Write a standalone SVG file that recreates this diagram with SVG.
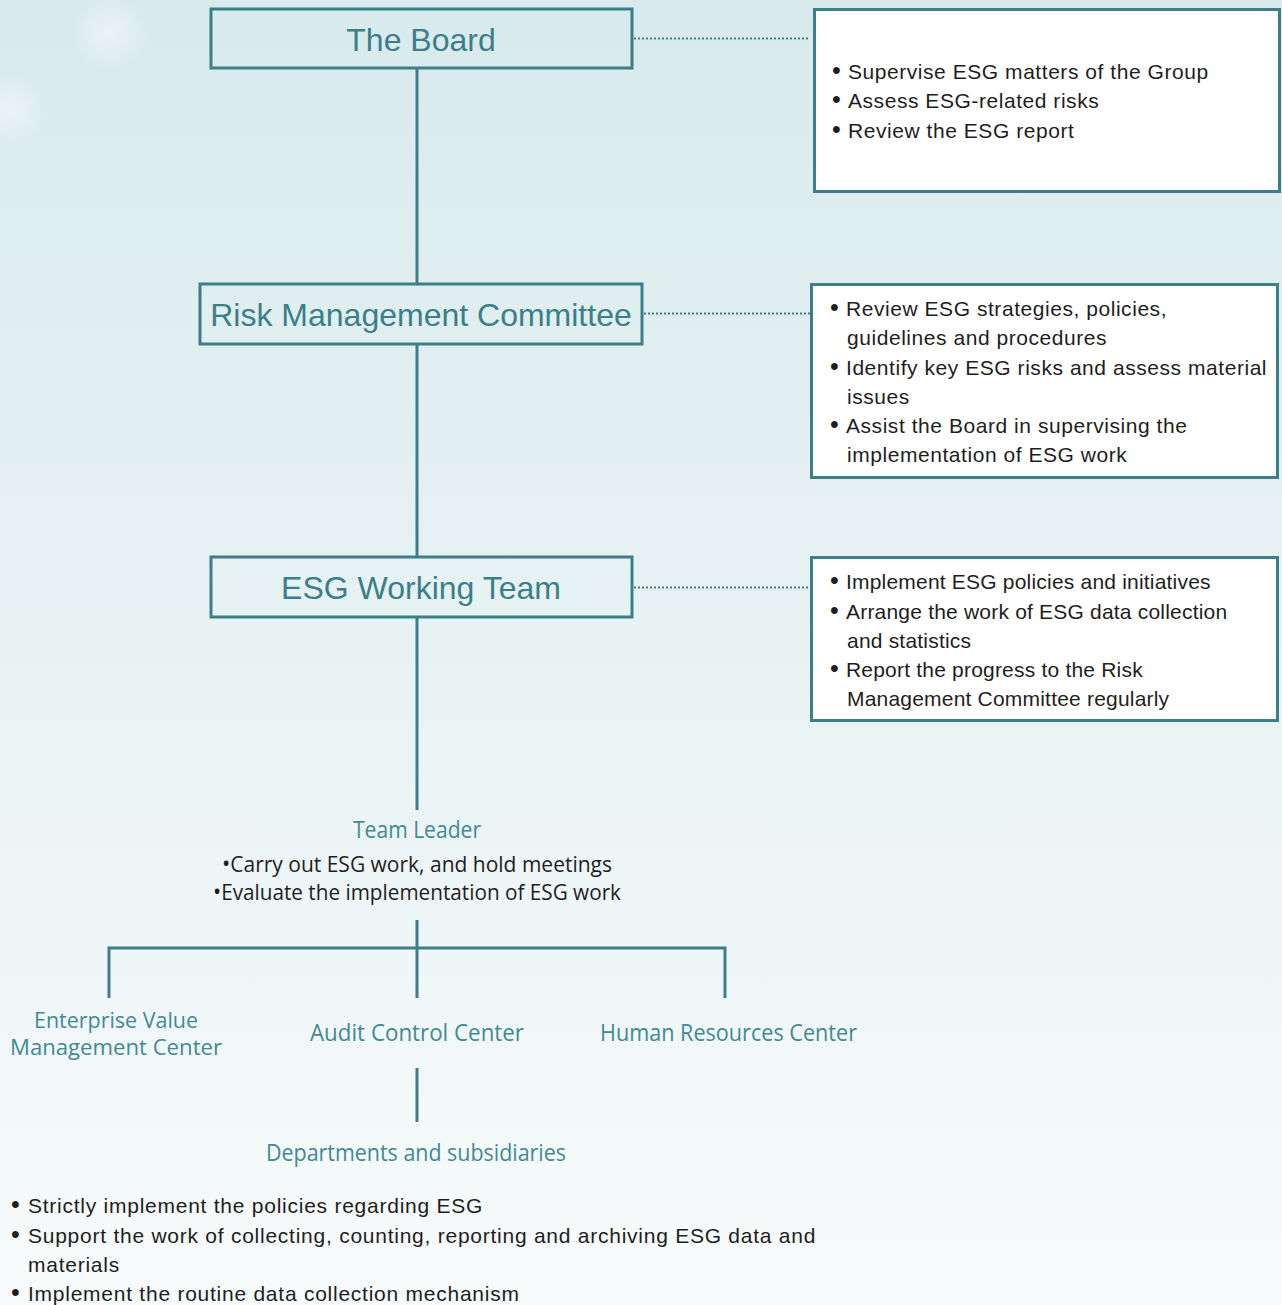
<svg xmlns="http://www.w3.org/2000/svg" width="1282" height="1305" viewBox="0 0 1282 1305">
  <defs>
    <linearGradient id="bg" x1="0" y1="0" x2="0" y2="1">
      <stop offset="0" stop-color="#d9eaec"/>
      <stop offset="0.55" stop-color="#e9f3f4"/>
      <stop offset="1" stop-color="#f8fbfc"/>
    </linearGradient>
    <radialGradient id="glow" cx="0.5" cy="0.5" r="0.5">
      <stop offset="0" stop-color="#ffffff" stop-opacity="0.45"/>
      <stop offset="1" stop-color="#ffffff" stop-opacity="0"/>
    </radialGradient>
  </defs>
  <style>
    .box { fill: none; stroke: #3a7f8a; stroke-width: 3; }
    .wbox { fill: #ffffff; stroke: #3a7f8a; stroke-width: 3; }
    .title { font-family: "Liberation Sans", Arial, sans-serif; font-size: 32px; fill: #3a7f8a; text-anchor: middle; }
    .desc { font-family: "Liberation Sans", Arial, sans-serif; font-size: 21px; fill: #1e1e1e; letter-spacing: 0.55px; }
    .desc3 { font-family: "Liberation Sans", Arial, sans-serif; font-size: 21px; fill: #1e1e1e; letter-spacing: 0.2px; }
    .bot { font-family: "Liberation Sans", Arial, sans-serif; font-size: 21px; fill: #1e1e1e; letter-spacing: 0.75px; }
    .b { font-size: 25px; letter-spacing: 0; }
    .lbl { font-family: "Open Sans", "Noto Sans", sans-serif; font-size: 23px; fill: #3f8a93; }
    .lbl2 { font-family: "Open Sans", "Noto Sans", sans-serif; font-size: 22px; fill: #3f8a93; }
    .blk { font-family: "Open Sans", "Noto Sans", sans-serif; font-size: 22px; fill: #1e1e1e; }
    .line { stroke: #3a7f8a; stroke-width: 3; fill: none; }
    .dot { stroke: #3a7f8a; stroke-width: 2; stroke-dasharray: 2 2; fill: none; }
  </style>
  <rect x="0" y="0" width="1282" height="1305" fill="url(#bg)"/>
  <circle cx="110" cy="32" r="38" fill="url(#glow)"/>
  <circle cx="10" cy="110" r="35" fill="url(#glow)"/>

  <g id="connectors">
    <line class="line" x1="417" y1="68" x2="417" y2="284"/>
    <line class="line" x1="417" y1="344" x2="417" y2="557"/>
    <line class="line" x1="417" y1="617" x2="417" y2="810"/>
    <line class="line" x1="417" y1="920" x2="417" y2="998"/>
    <polyline class="line" points="109,998 109,948 725,948 725,998"/>
    <line class="line" x1="417" y1="1068" x2="417" y2="1122"/>
    <line class="dot" x1="634" y1="38.5" x2="808" y2="38.5"/>
    <line class="dot" x1="644" y1="313.5" x2="810" y2="313.5"/>
    <line class="dot" x1="634" y1="587.5" x2="808" y2="587.5"/>
  </g>

  <g id="board">
    <rect class="box" x="211" y="9" width="421" height="59"/>
    <text class="title" x="421" y="51">The Board</text>
  </g>
  <g id="board-duties">
    <rect class="wbox" x="814.5" y="9.5" width="465" height="182"/>
    <text class="desc" y="79"><tspan class="b" x="832">•</tspan><tspan x="848">Supervise ESG matters of the Group</tspan></text>
    <text class="desc" y="108"><tspan class="b" x="832">•</tspan><tspan x="848">Assess ESG-related risks</tspan></text>
    <text class="desc" y="138"><tspan class="b" x="832">•</tspan><tspan x="848">Review the ESG report</tspan></text>
  </g>

  <g id="rmc">
    <rect class="box" x="200" y="284" width="442" height="60"/>
    <text class="title" x="421" y="326">Risk Management Committee</text>
  </g>
  <g id="rmc-duties">
    <rect class="wbox" x="811.5" y="284.5" width="466" height="193"/>
    <text class="desc" y="316"><tspan class="b" x="830">•</tspan><tspan x="846">Review ESG strategies, policies,</tspan></text>
    <text class="desc" x="847" y="345">guidelines and procedures</text>
    <text class="desc" y="375"><tspan class="b" x="830">•</tspan><tspan x="846">Identify key ESG risks and assess material</tspan></text>
    <text class="desc" x="847" y="404">issues</text>
    <text class="desc" y="433"><tspan class="b" x="830">•</tspan><tspan x="846">Assist the Board in supervising the</tspan></text>
    <text class="desc" x="847" y="462">implementation of ESG work</text>
  </g>

  <g id="esg-team">
    <rect class="box" x="211" y="557" width="421" height="60"/>
    <text class="title" x="421" y="599">ESG Working Team</text>
  </g>
  <g id="esg-duties">
    <rect class="wbox" x="811.5" y="557.5" width="466" height="163"/>
    <text class="desc3" y="589"><tspan class="b" x="830">•</tspan><tspan x="846">Implement ESG policies and initiatives</tspan></text>
    <text class="desc3" y="619"><tspan class="b" x="830">•</tspan><tspan x="846">Arrange the work of ESG data collection</tspan></text>
    <text class="desc3" x="847" y="648">and statistics</text>
    <text class="desc3" y="677"><tspan class="b" x="830">•</tspan><tspan x="846">Report the progress to the Risk</tspan></text>
    <text class="desc3" x="847" y="706">Management Committee regularly</text>
  </g>

  <g id="team-leader">
    <text class="lbl" x="353" y="838" textLength="128" lengthAdjust="spacingAndGlyphs">Team Leader</text>
    <text class="blk" x="222" y="872" textLength="390" lengthAdjust="spacingAndGlyphs"><tspan font-size="23">•</tspan>Carry out ESG work, and hold meetings</text>
    <text class="blk" x="213" y="900" textLength="408" lengthAdjust="spacingAndGlyphs"><tspan font-size="23">•</tspan>Evaluate the implementation of ESG work</text>
  </g>

  <g id="evm-center">
    <text class="lbl2" x="34" y="1028" textLength="164" lengthAdjust="spacingAndGlyphs">Enterprise Value</text>
    <text class="lbl2" x="10" y="1055" textLength="212" lengthAdjust="spacingAndGlyphs">Management Center</text>
  </g>
  <g id="audit-center">
    <text class="lbl" x="310" y="1041" textLength="214" lengthAdjust="spacingAndGlyphs">Audit Control Center</text>
  </g>
  <g id="hr-center">
    <text class="lbl" x="600" y="1041" textLength="257" lengthAdjust="spacingAndGlyphs">Human Resources Center</text>
  </g>

  <g id="departments">
    <text class="lbl" x="266" y="1161" textLength="300" lengthAdjust="spacingAndGlyphs">Departments and subsidiaries</text>
    <text class="bot" y="1213"><tspan class="b" x="11">•</tspan><tspan x="28">Strictly implement the policies regarding ESG</tspan></text>
    <text class="bot" y="1243"><tspan class="b" x="11">•</tspan><tspan x="28">Support the work of collecting, counting, reporting and archiving ESG data and</tspan></text>
    <text class="bot" x="28" y="1272">materials</text>
    <text class="bot" y="1301"><tspan class="b" x="11">•</tspan><tspan x="28">Implement the routine data collection mechanism</tspan></text>
  </g>
</svg>
